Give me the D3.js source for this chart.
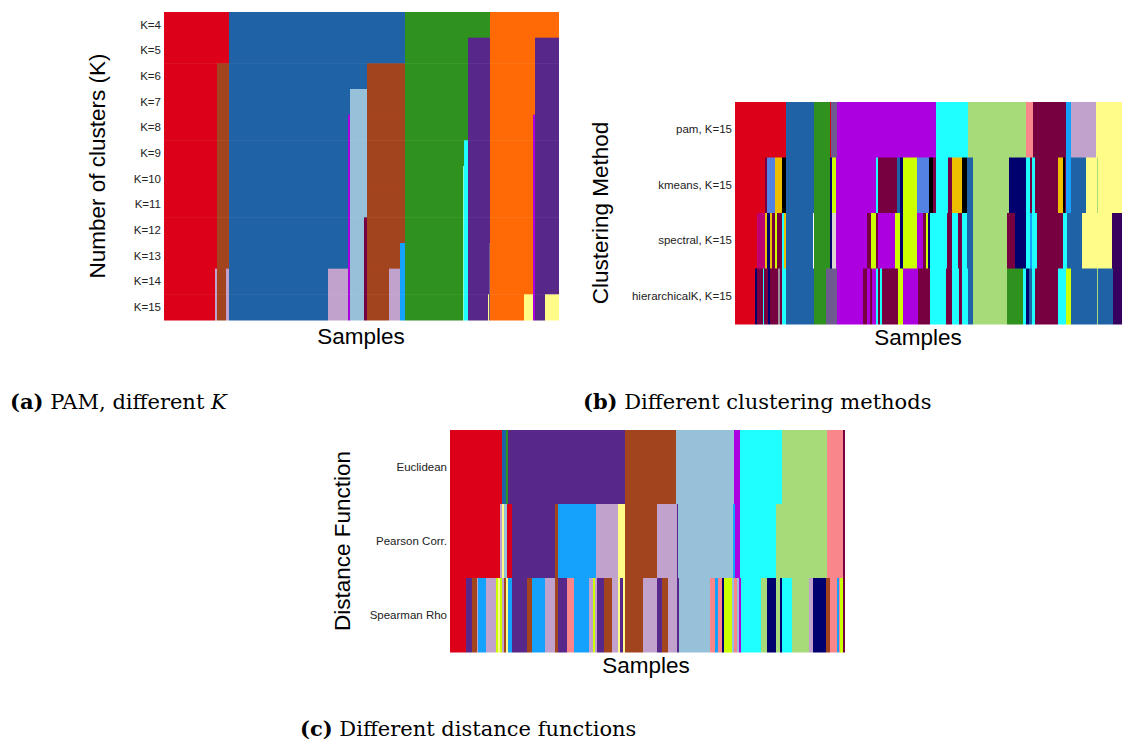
<!DOCTYPE html>
<html>
<head>
<meta charset="utf-8">
<script src="https://cdn.jsdelivr.net/npm/d3@7"></script>
<style>
  body { margin: 0; background: #fff; }
  text { font-family: "Liberation Sans", Arial, sans-serif; }
  .cap { font-family: "DejaVu Serif", "Liberation Serif", serif; }
</style>
</head>
<body>
<div id="chart"></div>
<script>
(function() {
  'use strict';

// cluster colours
const palette = {
  red: "#dc0019", blue: "#1f62a5", green: "#2f921f", orange: "#ff6a06",
  purple: "#57288a", brown: "#a2441e", lblue: "#96c1d9", magenta: "#ad00e1",
  lavender: "#c0a2cc", sky: "#14a2fc", lyellow: "#fffc88", maroon: "#760040",
  cyan: "#20ffff", lgreen: "#a7db7a", pink: "#f8868a", navy: "#00006f",
  corn: "#5283e4", gold: "#edbf00", black: "#000000", lime: "#ccff00",
  rose: "#bf0073", dpurple: "#38005f", gray: "#9a8f9a", slate: "#6d5a8f",
  white: "#ffffff", lgray: "#dcd6d0"
};

// (a) PAM, different K  -- runs are [first sample, cluster colour]
const kLabels = ["K=4", "K=5", "K=6", "K=7", "K=8", "K=9", "K=10", "K=11", "K=12", "K=13", "K=14", "K=15"];
const kSamples = 395;
const kRuns = [
  [[0,"red"],[65,"blue"],[241,"green"],[326,"orange"]],
  [[0,"red"],[65,"blue"],[241,"green"],[304,"purple"],[326,"orange"],[371,"purple"]],
  [[0,"red"],[53,"brown"],[65,"blue"],[203,"brown"],[241,"green"],[304,"purple"],[326,"orange"],[371,"purple"]],
  [[0,"red"],[53,"brown"],[65,"blue"],[186,"lblue"],[203,"brown"],[241,"green"],[304,"purple"],[326,"orange"],[371,"purple"]],
  [[0,"red"],[53,"brown"],[65,"blue"],[184,"magenta"],[186,"lblue"],[203,"brown"],[241,"green"],[304,"purple"],[326,"orange"],[369,"magenta"],[371,"purple"]],
  [[0,"red"],[53,"brown"],[65,"blue"],[184,"magenta"],[186,"lblue"],[203,"brown"],[241,"green"],[300,"cyan"],[304,"purple"],[326,"orange"],[369,"magenta"],[371,"purple"]],
  [[0,"red"],[53,"brown"],[65,"blue"],[184,"magenta"],[186,"lblue"],[203,"brown"],[241,"green"],[299,"aqua"],[300,"cyan"],[304,"purple"],[326,"orange"],[369,"magenta"],[371,"purple"]],
  [[0,"red"],[53,"brown"],[65,"blue"],[184,"magenta"],[186,"lblue"],[203,"brown"],[241,"green"],[299,"aqua"],[300,"cyan"],[304,"purple"],[326,"orange"],[369,"magenta"],[371,"purple"]],
  [[0,"red"],[53,"brown"],[65,"blue"],[184,"magenta"],[186,"lblue"],[200,"maroon"],[203,"brown"],[241,"green"],[299,"aqua"],[300,"cyan"],[304,"purple"],[326,"orange"],[369,"magenta"],[371,"purple"]],
  [[0,"red"],[53,"brown"],[65,"blue"],[184,"magenta"],[186,"lblue"],[200,"maroon"],[203,"brown"],[236,"sky"],[241,"green"],[299,"aqua"],[300,"cyan"],[304,"purple"],[325,"slate"],[326,"orange"],[369,"magenta"],[371,"purple"]],
  [[0,"red"],[51,"lavender"],[53,"brown"],[62,"lavender"],[65,"blue"],[164,"lavender"],[184,"magenta"],[186,"lblue"],[200,"maroon"],[203,"brown"],[225,"lavender"],[236,"sky"],[241,"green"],[299,"aqua"],[300,"cyan"],[304,"purple"],[325,"slate"],[326,"orange"],[369,"magenta"],[371,"purple"]],
  [[0,"red"],[51,"lavender"],[53,"brown"],[62,"lavender"],[65,"blue"],[164,"lavender"],[184,"magenta"],[186,"lblue"],[200,"maroon"],[203,"brown"],[225,"lavender"],[236,"sky"],[241,"green"],[299,"aqua"],[300,"cyan"],[304,"purple"],[324,"lyellow"],[325,"slate"],[326,"orange"],[360,"lyellow"],[369,"magenta"],[371,"purple"],[381,"lyellow"]]
];

// (b) different clustering methods
const methodLabels = ["pam, K=15", "kmeans, K=15", "spectral, K=15", "hierarchicalK, K=15"];
const methodSamples = 387;
const methodRuns = [
  [[0,"red"],[51,"blue"],[79,"green"],[95,"red"],[96,"slate"],[102,"magenta"],[201,"cyan"],[233,"lgreen"],[291,"pink"],[298,"maroon"],[331,"sky"],[336,"lavender"],[361,"lyellow"]],
  [[0,"red"],[30,"maroon"],[32,"corn"],[40,"gold"],[47,"black"],[51,"blue"],[79,"green"],[95,"navy"],[97,"lime"],[101,"magenta"],[141,"cyan"],[143,"maroon"],[162,"blue"],[165,"navy"],[168,"lime"],[182,"corn"],[194,"black"],[198,"maroon"],[201,"cyan"],[213,"maroon"],[217,"gold"],[227,"black"],[232,"blue"],[238,"lgreen"],[274,"navy"],[291,"cyan"],[295,"maroon"],[297,"cyan"],[300,"maroon"],[323,"gold"],[328,"black"],[330,"maroon"],[331,"sky"],[336,"blue"],[351,"lyellow"],[362,"lgreen"],[363,"lyellow"]],
  [[0,"red"],[22,"rose"],[30,"gold"],[32,"navy"],[35,"gold"],[37,"maroon"],[40,"lime"],[42,"maroon"],[47,"cyan"],[49,"gold"],[51,"blue"],[78,"white"],[79,"green"],[95,"navy"],[97,"lgray"],[101,"magenta"],[132,"maroon"],[136,"lime"],[141,"maroon"],[143,"magenta"],[160,"lime"],[165,"navy"],[168,"lime"],[182,"magenta"],[188,"maroon"],[191,"lime"],[193,"navy"],[195,"cyan"],[212,"maroon"],[217,"cyan"],[223,"maroon"],[227,"cyan"],[232,"blue"],[238,"lgreen"],[272,"maroon"],[280,"navy"],[291,"cyan"],[295,"sky"],[297,"cyan"],[302,"maroon"],[328,"cyan"],[332,"blue"],[347,"lyellow"],[377,"dpurple"]],
  [[0,"red"],[20,"navy"],[22,"maroon"],[28,"cyan"],[29,"maroon"],[33,"navy"],[35,"maroon"],[43,"gray"],[45,"maroon"],[47,"cyan"],[51,"blue"],[79,"green"],[91,"slate"],[102,"magenta"],[128,"maroon"],[132,"magenta"],[135,"maroon"],[137,"magenta"],[141,"cyan"],[143,"maroon"],[145,"cyan"],[147,"maroon"],[163,"lime"],[168,"magenta"],[183,"maroon"],[195,"cyan"],[211,"maroon"],[217,"cyan"],[224,"maroon"],[227,"cyan"],[233,"blue"],[238,"lgreen"],[272,"green"],[288,"cyan"],[291,"navy"],[294,"blue"],[297,"cyan"],[300,"maroon"],[323,"cyan"],[331,"lime"],[336,"blue"],[362,"lgreen"],[363,"blue"],[378,"dpurple"]]
];

// (c) different distance functions
const distLabels = ["Euclidean", "Pearson Corr.", "Spearman Rho"];
const distSamples = 395;
const distRuns = [
  [[0,"red"],[52,"blue"],[56,"green"],[58,"purple"],[175,"brown"],[226,"lblue"],[284,"magenta"],[290,"cyan"],[332,"lgreen"],[377,"pink"],[393,"maroon"]],
  [[0,"red"],[50,"lavender"],[52,"lyellow"],[54,"lblue"],[57,"red"],[62,"purple"],[105,"brown"],[108,"sky"],[146,"lavender"],[168,"lyellow"],[175,"brown"],[207,"lavender"],[227,"purple"],[228,"lblue"],[283,"sky"],[285,"magenta"],[290,"cyan"],[326,"lgreen"],[377,"pink"],[393,"maroon"]],
  [[0,"red"],[16,"purple"],[22,"brown"],[27,"lavender"],[28,"sky"],[36,"lavender"],[46,"lime"],[48,"lyellow"],[50,"lime"],[52,"lavender"],[54,"brown"],[56,"lyellow"],[58,"sky"],[62,"purple"],[77,"brown"],[82,"sky"],[95,"lavender"],[105,"brown"],[108,"purple"],[117,"pink"],[124,"sky"],[139,"lavender"],[143,"lime"],[145,"lavender"],[147,"purple"],[154,"brown"],[162,"lavender"],[168,"lyellow"],[170,"purple"],[173,"lyellow"],[175,"brown"],[193,"lavender"],[207,"purple"],[212,"brown"],[218,"lavender"],[227,"purple"],[229,"lblue"],[260,"pink"],[265,"sky"],[268,"pink"],[272,"navy"],[274,"lime"],[282,"lblue"],[284,"pink"],[287,"lblue"],[289,"magenta"],[291,"cyan"],[311,"lgreen"],[317,"navy"],[326,"lgreen"],[330,"navy"],[332,"cyan"],[342,"lgreen"],[359,"lavender"],[363,"navy"],[376,"brown"],[380,"pink"],[387,"sky"],[389,"pink"],[390,"lime"],[393,"maroon"]]
];

palette.aqua = "#7fffd0";

const W = 1122;
const H = 740;

const svg = d3.select("#chart")
  .append("svg")
    .attr("width", W)
    .attr("height", H);

svg.append("rect").attr("width", W).attr("height", H).attr("fill", "#fff");

const panels = [
  { labels: kLabels, runs: kRuns, n: kSamples, x: [164, 559], y: [12, 320],
    title: "Number of clusters (K)", titlePos: [97, 166], samplesPos: [361, 336] },
  { labels: methodLabels, runs: methodRuns, n: methodSamples, x: [735, 1122], y: [102, 324],
    title: "Clustering Method", titlePos: [600, 213], samplesPos: [918, 337] },
  { labels: distLabels, runs: distRuns, n: distSamples, x: [450, 845], y: [430, 652],
    title: "Distance Function", titlePos: [342, 541], samplesPos: [646, 665] }
];

panels.forEach(function(p) {
  const xScale = d3.scaleLinear().domain([0, p.n]).range(p.x);
  const yScale = d3.scaleBand().domain(p.labels).range(p.y);

  const rows = p.runs.map(function(runs, i) {
    return runs.map(function(r, j) {
      const end = j < runs.length - 1 ? runs[j + 1][0] : p.n;
      return { row: p.labels[i], start: r[0], end: end, c: r[1] };
    });
  });

  const g = svg.append("g");

  g.selectAll("g.row")
    .data(rows)
    .enter()
    .append("g")
      .attr("class", "row")
    .selectAll("rect")
    .data((d) => d)
    .enter()
    .append("rect")
      .attr("x", (d) => xScale(d.start))
      .attr("y", (d) => yScale(d.row))
      .attr("width", (d) => Math.max(0.5, xScale(d.end) - xScale(d.start)))
      .attr("height", yScale.bandwidth() + 0.5)
      .attr("fill", (d) => palette[d.c]);

  const yAxis = d3.axisLeft(yScale).tickSize(0).tickPadding(3);
  const ax = g.append("g")
    .attr("transform", `translate(${p.x[0]}, 0)`)
    .call(yAxis);
  ax.select(".domain").remove();
  ax.selectAll("text")
    .attr("font-size", 11.5)
    .attr("fill", "#222")
    .style("font-family", "'Liberation Sans', Arial, sans-serif");

  g.append("text")
    .attr("transform", `translate(${p.titlePos[0]}, ${p.titlePos[1]}) rotate(-90)`)
    .attr("text-anchor", "middle")
    .attr("dy", "0.35em")
    .attr("font-size", 22.5)
    .attr("fill", "#000")
    .text(p.title);

  g.append("text")
    .attr("x", p.samplesPos[0])
    .attr("y", p.samplesPos[1])
    .attr("text-anchor", "middle")
    .attr("dy", "0.35em")
    .attr("font-size", 22.5)
    .attr("fill", "#000")
    .text("Samples");
});

// sub-figure captions
const captions = [
  { x: 10, y: 409, tag: "(a)", parts: [[" PAM, different ", "normal"], ["K", "italic"]] },
  { x: 583, y: 409, tag: "(b)", parts: [[" Different clustering methods", "normal"]] },
  { x: 300, y: 736, tag: "(c)", parts: [[" Different distance functions", "normal"]] }
];

captions.forEach(function(c) {
  const t = svg.append("text")
    .attr("class", "cap")
    .attr("x", c.x)
    .attr("y", c.y)
    .attr("font-size", 21)
    .attr("fill", "#000");
  t.append("tspan").attr("font-weight", "bold").text(c.tag);
  c.parts.forEach(function(pt) {
    t.append("tspan").attr("font-style", pt[1]).style("white-space", "pre").text(pt[0]);
  });
  t.attr("xml:space", "preserve");
});

})();
</script>
</body>
</html>
